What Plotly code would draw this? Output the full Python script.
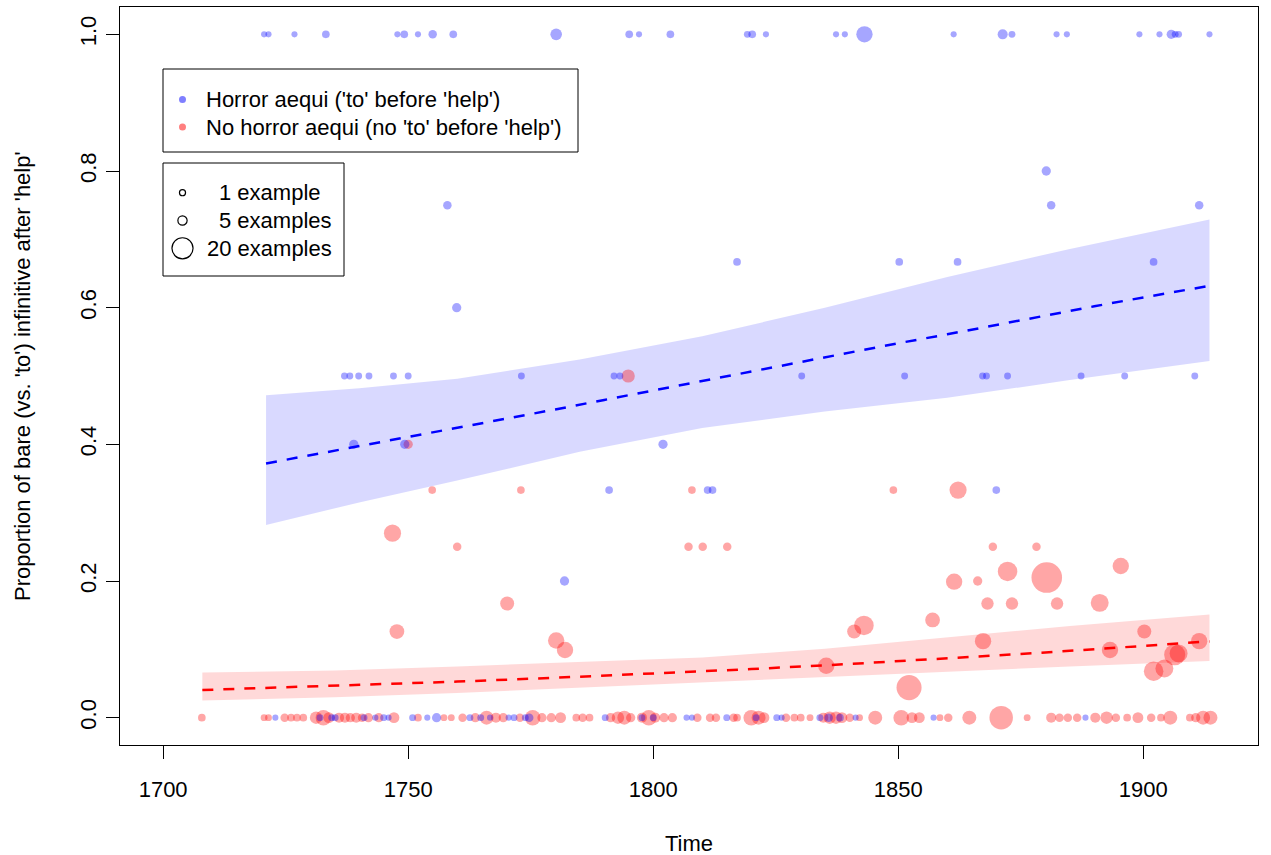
import plotly.graph_objects as go

# ---------------- data ----------------
# Horror aequi ('to' before 'help') -> blue
blue_year = [1720.6, 1721.5, 1726.8, 1733.2, 1747.8, 1749.2, 1752.0, 1755.0, 1759.2, 1780.2, 1795.1, 1797.1, 1803.5,
             1819.2, 1820.2, 1823.0, 1837.3, 1839.1, 1843.1, 1861.3, 1871.3, 1873.2, 1882.3, 1884.4, 1899.2, 1903.3,
             1905.7, 1906.5, 1907.2, 1913.5,
             1758.0, 1759.9,
             1737.0, 1738.1, 1739.9, 1742.0, 1747.0, 1750.0, 1773.1, 1792.0, 1793.2, 1830.3, 1851.3, 1867.2, 1868.0,
             1872.3, 1887.3, 1896.2, 1910.5,
             1738.9, 1749.3, 1802.0,
             1880.2, 1881.2, 1911.4,
             1817.1, 1850.2, 1862.1, 1902.1,
             1791.0, 1811.1, 1812.1, 1870.0,
             1781.9,
             1722.9, 1732.0, 1734.4, 1735.1, 1741.0, 1743.3, 1745.0, 1746.0, 1750.9, 1753.9, 1755.8, 1762.6, 1764.8,
             1766.7, 1770.5, 1771.6, 1773.9, 1774.7, 1790.2, 1797.7, 1800.0, 1806.8, 1807.9,
             1815.0, 1821.0, 1825.2, 1826.2, 1834.0, 1835.8, 1838.1, 1841.3, 1857.2, 1888.2]
blue_prop = [1.0] * 30 + [0.75, 0.6] + [0.5] * 17 + [0.4, 0.4, 0.4] + [0.8, 0.75, 0.75] + [0.667] * 4 + \
            [0.333] * 4 + [0.2] + [0.0] * 34
blue_n = [1, 1, 1, 3, 1, 3, 1, 4, 3, 8, 3, 1, 3,
          2, 3, 1, 1, 1, 14, 1, 6, 2, 1, 1, 1, 1,
          5, 2, 2, 1,
          4, 5,
          2, 2, 2, 2, 2, 2, 2, 2, 2, 2, 2, 2, 2,
          2, 2, 2, 2,
          5, 5, 5,
          5, 4, 4,
          3, 3, 3, 3,
          3, 3, 3, 3,
          5,
          1, 2, 2, 2, 2, 1, 2, 1, 2, 1, 5, 2, 2,
          1, 1, 2, 2, 4, 2, 2, 2, 1, 1,
          2, 2, 2, 1, 2, 4, 3, 1, 1, 1]

# No horror aequi (no 'to' before 'help') -> red
red_year = [1746.8, 1760.0, 1754.9, 1773.0, 1807.9, 1807.2, 1810.1, 1815.1, 1869.3, 1878.2, 1849.0, 1862.2,
            1770.2, 1747.7, 1780.2, 1782.0, 1872.3, 1880.3, 1861.4, 1866.2, 1895.4, 1868.2, 1873.2, 1882.4,
            1891.1, 1857.0, 1843.0, 1841.0, 1900.2, 1867.3, 1911.4, 1893.2, 1835.3, 1906.4, 1907.2, 1904.3,
            1902.1, 1852.2, 1794.9, 1750.0,
            1707.9, 1720.6, 1721.5, 1724.8, 1726.1, 1727.3, 1728.6, 1731.2, 1732.7, 1733.8, 1735.9, 1737.1,
            1738.2, 1739.4, 1740.6, 1741.9, 1744.0, 1747.1, 1752.0, 1757.3, 1758.8, 1761.1, 1763.7, 1766.0,
            1767.9, 1769.4, 1772.8, 1775.4, 1777.3, 1779.2, 1781.1, 1784.3, 1785.6, 1787.0, 1791.3, 1792.8,
            1794.1, 1795.4, 1797.7, 1799.1, 1800.4, 1802.2, 1803.9, 1809.0,
            1811.6, 1812.8, 1816.4, 1817.1, 1820.0, 1821.5, 1822.6, 1827.1, 1828.8, 1830.1, 1832.0, 1834.7,
            1836.0, 1837.3, 1838.5, 1840.1, 1842.1, 1845.3, 1850.6, 1852.8, 1854.3, 1858.5, 1860.2, 1864.5,
            1871.0, 1876.3, 1881.2, 1882.9, 1884.6, 1886.5, 1890.2, 1892.5, 1894.4, 1896.7, 1898.9, 1901.6,
            1903.6, 1905.5, 1909.5, 1910.7, 1912.2, 1913.7]
red_prop = [0.27, 0.25, 0.333, 0.333, 0.333, 0.25, 0.25, 0.25, 0.25, 0.25, 0.333, 0.333,
            0.167, 0.126, 0.113, 0.099, 0.214, 0.205, 0.199, 0.2, 0.222, 0.167, 0.167, 0.167,
            0.168, 0.143, 0.135, 0.126, 0.126, 0.112, 0.112, 0.099, 0.076, 0.092, 0.094, 0.072,
            0.068, 0.044, 0.5, 0.4] + [0.0] * 86
red_n = [15, 4, 3, 3, 3, 4, 4, 4, 4, 4, 3, 15,
         11, 12, 14, 14, 18, 32, 14, 5, 14, 9, 9, 9,
         16, 12, 18, 11, 11, 14, 14, 14, 14, 20, 16, 16,
         18, 25, 10, 5,
         3, 2, 2, 4, 3, 3, 3, 9, 13, 7, 6, 6,
         5, 6, 4, 5, 5, 7, 3, 2, 2, 4, 5, 11,
         6, 5, 4, 13, 5, 5, 7, 3, 4, 3, 5, 9,
         11, 5, 6, 13, 6, 5, 5, 4,
         4, 4, 4, 3, 13, 11, 7, 4, 3, 3, 2, 6,
         9, 9, 7, 4, 2, 11, 13, 7, 7, 2, 4, 11,
         23, 2, 6, 4, 4, 4, 6, 9, 4, 3, 7, 4,
         3, 11, 3, 5, 11, 11]

# fitted curves
blue_fit_year = [1721, 1730, 1740, 1750, 1760, 1770, 1780, 1790, 1800, 1810, 1820, 1830, 1840, 1850, 1860,
                 1870, 1880, 1890, 1900, 1913.5]
blue_fit = [0.372, 0.384, 0.397, 0.410, 0.424, 0.437, 0.451, 0.465, 0.479, 0.492, 0.506, 0.520, 0.534, 0.548,
            0.561, 0.575, 0.588, 0.602, 0.615, 0.632]
blue_band_year = [1721, 1740, 1760, 1785, 1810, 1835, 1860, 1885, 1913.5]
blue_upper = [0.472, 0.482, 0.496, 0.524, 0.558, 0.600, 0.645, 0.686, 0.729]
blue_lower = [0.282, 0.315, 0.347, 0.389, 0.424, 0.448, 0.468, 0.494, 0.522]

red_fit_year = [1708, 1720, 1740, 1760, 1780, 1800, 1820, 1840, 1860, 1880, 1900, 1913.5]
red_fit = [0.0405, 0.0431, 0.0477, 0.0528, 0.0584, 0.0645, 0.0711, 0.0785, 0.0866, 0.0954, 0.105, 0.1116]
red_band_year = [1708, 1735, 1760, 1785, 1810, 1835, 1860, 1885, 1913.5]
red_upper = [0.066, 0.069, 0.075, 0.081, 0.088, 0.101, 0.118, 0.134, 0.151]
red_lower = [0.025, 0.030, 0.036, 0.044, 0.051, 0.059, 0.067, 0.075, 0.083]

x_ticks = [1700, 1750, 1800, 1850, 1900]
y_ticks = [0.0, 0.2, 0.4, 0.6, 0.8, 1.0]
legend_groups = ["Horror aequi ('to' before 'help')", "No horror aequi (no 'to' before 'help')"]
size_legend_n = [1, 5, 20]
size_legend_labels = ["1 example", "5 examples", "20 examples"]

# ---------------- layout constants ----------------
W, H = 1271, 855
L, R, T, B = 120, 13, 7, 110
PW, PH = W - L - R, H - T - B
FONT = "Liberation Sans, Arial, sans-serif"


def size_of(n):
    return 5.3 + 0.79 * n


def xp(px):
    return (px - L) / PW


def yp(py):
    return (H - B - py) / PH


BLUE_PT = "rgba(0,0,255,0.5)"
RED_PT = "rgba(255,0,0,0.5)"

fig = go.Figure()

# confidence bands
fig.add_trace(go.Scatter(x=blue_band_year + blue_band_year[::-1], y=blue_upper + blue_lower[::-1],
                         fill="toself", fillcolor="rgba(0,0,255,0.15)", line=dict(width=0),
                         mode="lines", hoverinfo="skip", showlegend=False))
fig.add_trace(go.Scatter(x=red_band_year + red_band_year[::-1], y=red_upper + red_lower[::-1],
                         fill="toself", fillcolor="rgba(255,0,0,0.15)", line=dict(width=0),
                         mode="lines", hoverinfo="skip", showlegend=False))

# points
fig.add_trace(go.Scatter(x=red_year, y=red_prop, mode="markers",
                         marker=dict(size=[size_of(n) for n in red_n], color=RED_PT, line=dict(width=0)),
                         showlegend=False))
fig.add_trace(go.Scatter(x=blue_year, y=blue_prop, mode="markers",
                         marker=dict(size=[size_of(n) for n in blue_n], color=BLUE_PT, line=dict(width=0)),
                         showlegend=False))

# fitted lines
fig.add_trace(go.Scatter(x=blue_fit_year, y=blue_fit, mode="lines",
                         line=dict(color="#0000FF", width=2.5, dash="11px,10px"), showlegend=False))
fig.add_trace(go.Scatter(x=red_fit_year, y=red_fit, mode="lines",
                         line=dict(color="#FF0000", width=2.5, dash="11px,10px"), showlegend=False))

shapes = []
annotations = []

# legend 1
shapes.append(dict(type="rect", xref="paper", yref="paper", x0=xp(163), x1=xp(578), y0=yp(152), y1=yp(69),
                   line=dict(color="black", width=1), fillcolor="white", layer="above"))
for i, (lab, col) in enumerate(zip(legend_groups, [BLUE_PT, RED_PT])):
    cy = 99.5 + i * 27.5
    shapes.append(dict(type="circle", xref="paper", yref="paper", xsizemode="pixel", ysizemode="pixel",
                       xanchor=xp(182.5), yanchor=yp(cy), x0=-3.5, x1=3.5, y0=-3.5, y1=3.5,
                       fillcolor=col, line=dict(width=0), layer="above"))
    annotations.append(dict(xref="paper", yref="paper", x=xp(204), y=yp(cy), text=lab, showarrow=False,
                            xanchor="left", yanchor="middle", font=dict(family=FONT, size=22, color="black")))

# legend 2
shapes.append(dict(type="rect", xref="paper", yref="paper", x0=xp(163), x1=xp(344), y0=yp(276), y1=yp(163),
                   line=dict(color="black", width=1), fillcolor="white", layer="above"))
for i, (n, lab) in enumerate(zip(size_legend_n, size_legend_labels)):
    cy = 192.7 + i * 27.8
    r = size_of(n) / 2
    shapes.append(dict(type="circle", xref="paper", yref="paper", xsizemode="pixel", ysizemode="pixel",
                       xanchor=xp(182.5), yanchor=yp(cy), x0=-r, x1=r, y0=-r, y1=r,
                       fillcolor="rgba(0,0,0,0)", line=dict(width=1.2, color="black"), layer="above"))
    tx = 216.5 if n < 10 else 204.5
    annotations.append(dict(xref="paper", yref="paper", x=xp(tx), y=yp(cy), text=lab, showarrow=False,
                            xanchor="left", yanchor="middle", font=dict(family=FONT, size=22, color="black")))

# axis titles
annotations.append(dict(xref="paper", yref="paper", x=0.5, y=yp(843), text="Time", showarrow=False,
                        xanchor="center", yanchor="middle", font=dict(family=FONT, size=22, color="black")))
annotations.append(dict(xref="paper", yref="paper", x=xp(22), y=0.5,
                        text="Proportion of bare (vs. 'to') infinitive after 'help'", showarrow=False,
                        textangle=-90, xanchor="center", yanchor="middle",
                        font=dict(family=FONT, size=22, color="black")))

fig.update_layout(
    width=W, height=H, margin=dict(l=L, r=R, t=T, b=B, autoexpand=False),
    paper_bgcolor="white", plot_bgcolor="white",
    font=dict(family=FONT, size=22, color="black"),
    shapes=shapes, annotations=annotations, showlegend=False,
    xaxis=dict(range=[1691.2, 1923.4], tickmode="array", tickvals=x_ticks, ticktext=[str(v) for v in x_ticks],
               ticks="outside", ticklen=13, tickwidth=1, tickcolor="black", showgrid=False, zeroline=False,
               showline=True, linecolor="black", linewidth=1, mirror=True, ticklabelstandoff=12),
    yaxis=dict(range=[-0.04, 1.04], tickmode="array", tickvals=y_ticks, ticktext=[f"{v:.1f}" for v in y_ticks],
               ticks="outside", ticklen=13, tickwidth=1, tickcolor="black", showgrid=False, zeroline=False,
               showline=True, linecolor="black", linewidth=1, mirror=True, tickangle=-90, ticklabelstandoff=1),
)

fig.write_html("out.html", config={"displayModeBar": False})
